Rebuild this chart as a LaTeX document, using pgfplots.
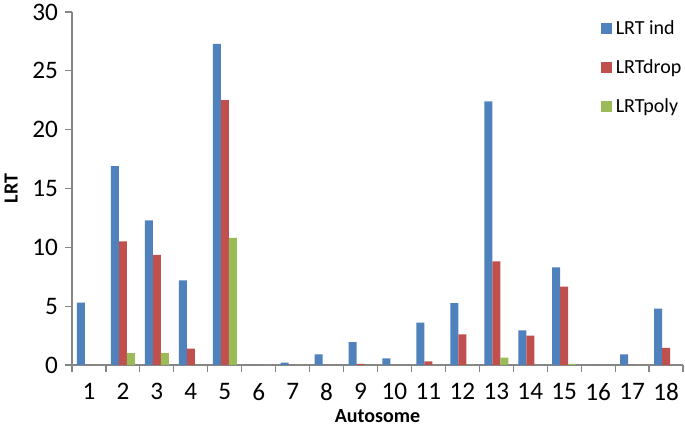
\documentclass[border=0pt]{standalone}
\usepackage{pgfplots}
\pgfplotsset{compat=1.18}
\usepackage{pgfplotstable}
\usepackage{fontspec}
\setmainfont{Carlito}
\definecolor{xlblue}{HTML}{4F81BD}
\definecolor{xlred}{HTML}{C0504D}
\definecolor{xlgreen}{HTML}{9BBB59}
\definecolor{axgray}{HTML}{868686}

% chromosome, LRT ind, LRTdrop, LRTpoly
\pgfplotstableread{
chr ind  drop  poly
1   5.3  0     0
2   16.9 10.5  1.0
3   12.3 9.35  1.0
4   7.2  1.4   0
5   27.3 22.5  10.8
6   0    0     0
7   0.2  0     0
8   0.9  0     0
9   1.95 0.1   0
10  0.57 0     0
11  3.6  0.3   0
12  5.25 2.6   0.03
13  22.4 8.8   0.62
14  2.95 2.5   0
15  8.3  6.65  0.1
16  0    0     0
17  0.9  0     0
18  4.8  1.45  0
}\lrt

\begin{document}
\begin{tikzpicture}
\begin{axis}[
    ybar=0pt, bar width=4pt,
    width=305.5pt, height=176.5pt, scale only axis,
    xmin=0.5, xmax=18.5, ymin=0, ymax=30,
    axis lines*=left,
    axis line style={axgray, line width=0.6pt},
    xtick={1,...,18}, major x tick style={draw=none},
    minor xtick={0.5,1.5,...,18.5},
    minor x tick style={axgray, line width=0.6pt},
    minor tick length=3.5pt,
    ytick={0,5,...,30},
    y tick style={axgray, line width=0.6pt},
    major tick length=3.5pt,
    tick align=outside,
    /pgf/number format/assume math mode=true,
    tick label style={font=\fontsize{12.6}{14}\selectfont, text=black},
    xticklabel style={yshift=-2pt},
    xlabel={\textbf{Autosome}},
    ylabel={\textbf{LRT}},
    label style={font=\fontsize{10}{12}\selectfont},
    xlabel style={yshift=2.5pt},
    ylabel style={yshift=0.5pt},
    legend style={draw=none, fill=none, at={(rel axis cs:0.855,1.0)}, anchor=north west,
        font=\fontsize{10}{12}\selectfont, row sep=7pt,
        /tikz/every even column/.append style={column sep=2pt}},
    legend cell align=left,
    legend image code/.code={\fill[#1] (0pt,-2.75pt) rectangle (5.5pt,2.75pt);},
]
\addplot[fill=xlblue, draw=none] table[x=chr, y=ind] {\lrt};
\addplot[fill=xlred, draw=none] table[x=chr, y=drop] {\lrt};
\addplot[fill=xlgreen, draw=none] table[x=chr, y=poly] {\lrt};
\legend{LRT ind, LRTdrop, LRTpoly}
\coordinate (sw) at (rel axis cs:0,0);
\coordinate (ne) at (rel axis cs:1,1);
\end{axis}
\pgfresetboundingbox
\path[use as bounding box] ([xshift=-36pt,yshift=-30.5pt]sw) rectangle ([xshift=1pt,yshift=6pt]ne);
\end{tikzpicture}
\end{document}
